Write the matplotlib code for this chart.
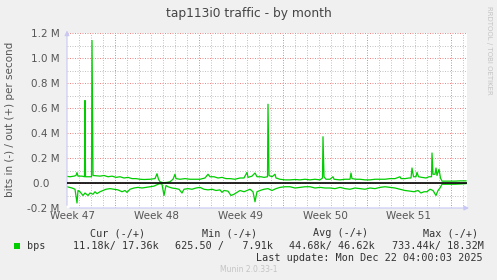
import matplotlib

matplotlib.use("Agg")
import matplotlib.pyplot as plt
from matplotlib.patches import Rectangle

# time in hours since the left edge of the graph window, values in Mbit/s
out_hours = [0, 6, 14, 18, 20, 22, 30, 35, 36, 37, 42, 49, 50, 52, 58, 66, 74, 82, 90, 98,
             106, 114, 122, 130, 138, 146, 154, 166, 176, 180, 183, 186, 192, 200, 206, 212,
             216, 218, 226, 236, 246, 256, 266, 276, 282, 286, 294, 302, 310, 318, 326, 336,
             346, 354, 360, 362, 370, 376, 380, 388, 394, 401, 402, 404, 410, 416, 418, 426,
             436, 446, 456, 466, 476, 486, 496, 506, 511, 512, 514, 518, 526, 532, 534, 546,
             556, 566, 568, 570, 578, 586, 596, 606, 616, 626, 636, 646, 656, 666, 668, 676,
             684, 688, 690, 693, 698, 700, 703, 710, 718, 724, 729, 730, 732, 736, 738, 740,
             744, 747, 750, 762, 776, 786, 798]
out_mbps = [0.053, 0.05, 0.055, 0.06, 0.083, 0.055, 0.055, 0.05, 0.66, 0.05, 0.05, 0.05, 1.14,
            0.06, 0.058, 0.055, 0.06, 0.05, 0.055, 0.045, 0.05, 0.04, 0.045, 0.035, 0.035, 0.03,
            0.028, 0.03, 0.035, 0.074, 0.03, 0.01, 0.002, 0.005, 0.01, 0.03, 0.07, 0.035, 0.03,
            0.035, 0.03, 0.03, 0.03, 0.04, 0.07, 0.05, 0.05, 0.04, 0.045, 0.035, 0.035, 0.03,
            0.04, 0.04, 0.085, 0.045, 0.055, 0.08, 0.05, 0.05, 0.045, 0.05, 0.63, 0.06, 0.05,
            0.07, 0.04, 0.03, 0.025, 0.025, 0.028, 0.025, 0.03, 0.025, 0.03, 0.025, 0.04, 0.37,
            0.05, 0.03, 0.03, 0.05, 0.03, 0.025, 0.03, 0.03, 0.08, 0.035, 0.03, 0.03, 0.025,
            0.025, 0.03, 0.03, 0.03, 0.035, 0.035, 0.05, 0.035, 0.035, 0.04, 0.04, 0.12, 0.05,
            0.05, 0.085, 0.05, 0.045, 0.04, 0.05, 0.05, 0.24, 0.07, 0.07, 0.12, 0.06, 0.11,
            0.04, 0.015, 0.015, 0.015, 0.017, 0.017]

in_hours = [0, 10, 16, 20, 22, 26, 32, 36, 42, 46, 52, 56, 60, 66, 72, 78, 86, 94, 102, 110,
            116, 120, 126, 134, 142, 150, 158, 166, 174, 182, 186, 190, 194, 198, 202, 210,
            218, 224, 230, 234, 242, 250, 258, 266, 274, 282, 290, 298, 306, 310, 314, 322,
            328, 334, 340, 346, 354, 360, 366, 372, 376, 380, 386, 394, 402, 410, 418, 426,
            436, 446, 456, 466, 476, 486, 496, 506, 516, 526, 536, 546, 556, 566, 576, 586,
            596, 606, 616, 626, 636, 646, 656, 666, 676, 686, 694, 702, 708, 714, 720, 726,
            732, 738, 742, 746, 750, 762, 776, 786, 798]
in_mbps = [0.03, 0.04, 0.05, 0.16, 0.06, 0.07, 0.1, 0.08, 0.1, 0.08, 0.09, 0.07, 0.085, 0.07,
           0.06, 0.05, 0.045, 0.05, 0.055, 0.07, 0.06, 0.075, 0.05, 0.04, 0.035, 0.04, 0.035,
           0.03, 0.025, 0.01, 0.005, 0.01, 0.1, 0.02, 0.03, 0.04, 0.045, 0.05, 0.08, 0.05,
           0.045, 0.05, 0.04, 0.035, 0.05, 0.055, 0.05, 0.06, 0.055, 0.075, 0.06, 0.065, 0.1,
           0.09, 0.075, 0.06, 0.07, 0.06, 0.05, 0.07, 0.15, 0.07, 0.06, 0.05, 0.045, 0.06,
           0.045, 0.035, 0.03, 0.03, 0.04, 0.035, 0.03, 0.03, 0.04, 0.035, 0.04, 0.04, 0.045,
           0.035, 0.045, 0.05, 0.04, 0.045, 0.05, 0.04, 0.045, 0.035, 0.03, 0.035, 0.04, 0.05,
           0.06, 0.065, 0.07, 0.06, 0.08, 0.07, 0.07, 0.05, 0.06, 0.1, 0.06, 0.04, 0.01, 0.01,
           0.01, 0.008, 0.005]

ytick_vals = [1.2, 1.0, 0.8, 0.6, 0.4, 0.2, 0.0, -0.2]
ytick_labels = ["1.2 M", "1.0 M", "0.8 M", "0.6 M", "0.4 M", "0.2 M", "0.0", "-0.2 M"]
week_label_hours = [12, 180, 348, 516, 684]
week_labels = ["Week 47", "Week 48", "Week 49", "Week 50", "Week 51"]
week_start_hours = [96, 264, 432, 600, 768]

legend_cols = ["Cur (-/+)", "Min (-/+)", "Avg (-/+)", "Max (-/+)"]
legend_vals = ["11.18k/ 17.36k", "625.50 /   7.91k", "44.68k/ 46.62k", "733.44k/ 18.32M"]
last_update = "Last update: Mon Dec 22 04:00:03 2025"

W, H = 497, 280
BG = "#F0F0F0"
GREEN = "#00CC00"
TXT = "#555555"
AXIS = "#C8C8F4"


def fx(px):
    return px / W


def fy(py):
    return 1 - py / H


fig = plt.figure(figsize=(W / 100, H / 100), dpi=100, facecolor=BG)
ax = fig.add_axes([fx(67), fy(208), 400 / W, 175 / H])
ax.set_facecolor("white")
ax.set_xlim(0, 800)
ax.set_ylim(-0.2, 1.2)
for s in ax.spines.values():
    s.set_visible(False)

# rrdtool style dotted grid: grey minor lines, pink major lines
dot = (0, (1, 1.5))
grid_kw = dict(lw=0.72, ls=dot, zorder=1)
for h in range(24, 800, 24):
    if h in week_start_hours:
        continue
    ax.axvline(h, color="#C4C4C4", **grid_kw)
for v in [1.1, 0.9, 0.7, 0.5, 0.3, 0.1, -0.1]:
    ax.axhline(v, color="#C4C4C4", **grid_kw)
for h in week_start_hours:
    ax.axvline(h, color="#EE8888", **grid_kw)
for v in ytick_vals[:-1]:
    ax.axhline(v, color="#EE8888", **grid_kw)

ax.plot(out_hours, out_mbps, color=GREEN, lw=0.9, zorder=3)
ax.plot(in_hours, [-v for v in in_mbps], color=GREEN, lw=0.9, zorder=3)
ax.axhline(0, color="black", lw=1.2, zorder=4)

# axes with arrow heads
ax.annotate("", xy=(1.012, 0), xytext=(0, 0), xycoords="axes fraction",
            arrowprops=dict(arrowstyle="-|>", color=AXIS, lw=0.8, mutation_scale=7),
            annotation_clip=False)
ax.annotate("", xy=(0, 1.03), xytext=(0, 0), xycoords="axes fraction",
            arrowprops=dict(arrowstyle="-|>", color=AXIS, lw=0.8, mutation_scale=7),
            annotation_clip=False)

ax.set_yticks(ytick_vals)
ax.set_yticklabels([lab if lab != "0.0" else "0.0   " for lab in ytick_labels])
ax.set_xticks(week_label_hours)
ax.set_xticklabels(week_labels)
ax.tick_params(axis="both", length=0, labelsize=7.5, labelcolor=TXT)
ax.tick_params(axis="y", pad=5.5)
ax.tick_params(axis="x", pad=2.5)

fig.text(0.5, fy(13), "tap113i0 traffic - by month", ha="center", va="center",
         fontsize=8.8, color="#444444")
fig.text(fx(10), fy(119), "bits in (-) / out (+) per second", rotation=90,
         ha="center", va="center", fontsize=7.5, color=TXT)
fig.text(fx(489), fy(6), "RRDTOOL / TOBI OETIKER", rotation=270, ha="center", va="top",
         fontsize=5, color="#C4C4C4")

mono = "DejaVu Sans Mono"
col_x = [90, 202, 313, 423]
val_x = [73, 175, 289, 392]
for x, t in zip(col_x, legend_cols):
    fig.text(fx(x), fy(233), t, ha="left", va="center", family=mono, fontsize=7.3, color="#333333")
fig.patches.append(Rectangle((fx(14), fy(249)), 6 / W, 6 / H, transform=fig.transFigure,
                             facecolor=GREEN, edgecolor="none"))
fig.text(fx(27), fy(246), "bps", ha="left", va="center", family=mono, fontsize=7.3, color="#333333")
for x, t in zip(val_x, legend_vals):
    fig.text(fx(x), fy(246), t, ha="left", va="center", family=mono, fontsize=7.3, color="#333333")
fig.text(fx(483), fy(258), last_update, ha="right", va="center", family=mono, fontsize=7.3,
         color="#333333")
fig.text(0.5, fy(269), "Munin 2.0.33-1", ha="center", va="center", fontsize=5.5, color="#C4C4C4")

fig.savefig("out.png", dpi=100, facecolor=BG)
